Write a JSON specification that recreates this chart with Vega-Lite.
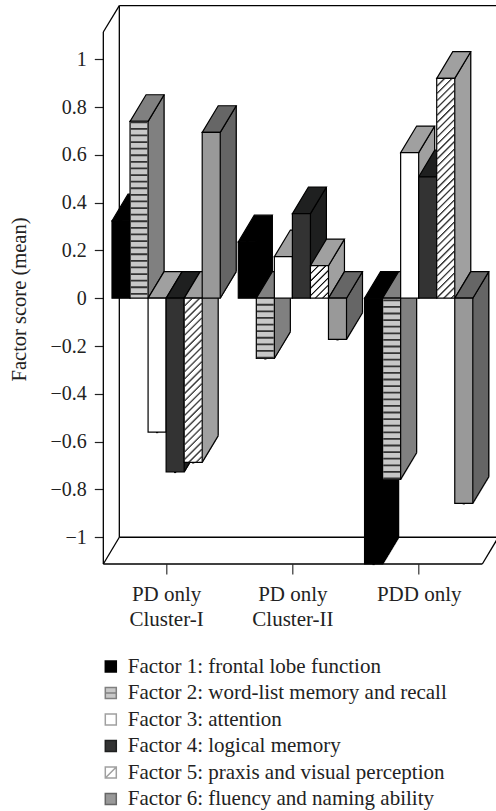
{"$schema":"https://vega.github.io/schema/vega-lite/v6.json","width":392.7,"height":564,"autosize":"none","padding":{"left":103.3,"top":0,"right":0,"bottom":247},"background":"white","config":{"view":{"stroke":null},"font":"Liberation Serif","axis":{"grid":false}},
"data":{"values":[
{"group":"PD only Cluster-I","factor":"Factor 1: frontal lobe function","slot":"A1","value":0.324},
{"group":"PD only Cluster-I","factor":"Factor 2: word-list memory and recall","slot":"A2","value":0.74},
{"group":"PD only Cluster-I","factor":"Factor 3: attention","slot":"A3","value":-0.56},
{"group":"PD only Cluster-I","factor":"Factor 4: logical memory","slot":"A4","value":-0.727},
{"group":"PD only Cluster-I","factor":"Factor 5: praxis and visual perception","slot":"A5","value":-0.687},
{"group":"PD only Cluster-I","factor":"Factor 6: fluency and naming ability","slot":"A6","value":0.694},
{"group":"PD only Cluster-II","factor":"Factor 1: frontal lobe function","slot":"B1","value":0.236},
{"group":"PD only Cluster-II","factor":"Factor 2: word-list memory and recall","slot":"B2","value":-0.252},
{"group":"PD only Cluster-II","factor":"Factor 3: attention","slot":"B3","value":0.174},
{"group":"PD only Cluster-II","factor":"Factor 4: logical memory","slot":"B4","value":0.354},
{"group":"PD only Cluster-II","factor":"Factor 5: praxis and visual perception","slot":"B5","value":0.136},
{"group":"PD only Cluster-II","factor":"Factor 6: fluency and naming ability","slot":"B6","value":-0.172},
{"group":"PDD only","factor":"Factor 1: frontal lobe function","slot":"C1","value":-1.112},
{"group":"PDD only","factor":"Factor 2: word-list memory and recall","slot":"C2","value":-0.758},
{"group":"PDD only","factor":"Factor 3: attention","slot":"C3","value":0.609},
{"group":"PDD only","factor":"Factor 4: logical memory","slot":"C4","value":0.508},
{"group":"PDD only","factor":"Factor 5: praxis and visual perception","slot":"C5","value":0.92},
{"group":"PDD only","factor":"Factor 6: fluency and naming ability","slot":"C6","value":-0.858}
]},
"encoding":{
"x":{"field":"slot","type":"nominal","sort":null,"title":null,"scale":{"type":"band","domain":["A1","A2","A3","A4","A5","A6","gap1","B1","B2","B3","B4","B5","B6","gap2","C1","C2","C3","C4","C5","C6"],"range":[8.7,369.5],"paddingInner":0,"paddingOuter":0},
"axis":{"values":["A3","B3","C3"],"domain":false,"tickOffset":9.02,"tickSize":10,"tickColor":"#333","tickWidth":1.2,"labelAngle":0,"labelFont":"Liberation Serif","labelFontSize":21,"labelColor":"#222","labelPadding":9,"labelLineHeight":25.7,"labelBaseline":"top","labelAlign":"center","labelExpr":"datum.value=='A3'?['PD only','Cluster-I']:datum.value=='B3'?['PD only','Cluster-II']:'PDD only'"}},
"y":{"field":"value","type":"quantitative","title":"Factor score (mean)","scale":{"domain":[-1.112,1.2477],"nice":false,"zero":false},
"axis":{"values":[-1,-0.8,-0.6,-0.4,-0.2,0,0.2,0.4,0.6,0.8,1],"format":".1~f","domain":false,"tickSize":9,"tickColor":"#222","tickWidth":1.2,"labelFont":"Liberation Serif","labelFontSize":20,"labelColor":"#222","labelPadding":8,"titleFont":"Liberation Serif","titleFontSize":20.5,"titleFontWeight":"normal","titleColor":"#222","titleX":-74,"titleY":299}}
},
"layer":[
{"mark":{"type":"point","filled":true,"size":1,"opacity":1,"stroke":"black","strokeWidth":1.2},
"encoding":{
"fill":{"field":"factor","type":"nominal","sort":null,"scale":{"domain":["Factor 1: frontal lobe function","Factor 2: word-list memory and recall","Factor 3: attention","Factor 4: logical memory","Factor 5: praxis and visual perception","Factor 6: fluency and naming ability"],"range":["#000000","#c8c8c8","#ffffff","#333333","#ffffff","#999999"]},
"legend":{"orient":"none","legendX":-3,"legendY":656,"title":null,"symbolSize":121,"symbolStrokeWidth":1.5,"symbolStrokeColor":"#111","labelFont":"Liberation Serif","labelFontSize":21,"labelColor":"#222","labelOffset":6.5,"rowPadding":4.5,"labelLimit":400}},
"shape":{"field":"factor","type":"nominal","sort":null,"scale":{"domain":["Factor 1: frontal lobe function","Factor 2: word-list memory and recall","Factor 3: attention","Factor 4: logical memory","Factor 5: praxis and visual perception","Factor 6: fluency and naming ability"],"range":["M-1,-1H1V1H-1Z","M-1,-1H1V1H-1ZM-1,0H1","M-1,-1H1V1H-1Z","M-1,-1H1V1H-1Z","M-1,-1H1V1H-1ZM-1,1L1,-1","M-1,-1H1V1H-1Z"]}}
}},
{"transform":[{"filter":{"field":"slot","equal":"A1"}}],"encoding":{"x2":{"field":"slot"}},
"layer":[
{"mark":{"type":"rule","color":"black","strokeWidth":1.3,"xOffset":-1.7,"x2Offset":380},"encoding":{"y":{"datum":1.2238,"type":"quantitative"},"y2":{"datum":1.2238}}},
{"mark":{"type":"rule","color":"black","strokeWidth":1.3,"xOffset":-1.7,"x2Offset":-1.7},"encoding":{"y":{"datum":-1,"type":"quantitative"},"y2":{"datum":1.2238}}},
{"mark":{"type":"rule","color":"black","strokeWidth":1.3,"xOffset":-17.7,"x2Offset":-17.7},"encoding":{"y":{"datum":-1.112,"type":"quantitative"},"y2":{"datum":1.1138}}},
{"mark":{"type":"rule","color":"black","strokeWidth":1.3,"xOffset":-17.7,"x2Offset":-1.7},"encoding":{"y":{"datum":1.1138,"type":"quantitative"},"y2":{"datum":1.2238}}},
{"mark":{"type":"rule","color":"black","strokeWidth":1.3,"xOffset":-17.7,"x2Offset":-1.7},"encoding":{"y":{"datum":-1.112,"type":"quantitative"},"y2":{"datum":-1}}},
{"mark":{"type":"rule","color":"black","strokeWidth":1.6,"xOffset":-17.7,"x2Offset":361.3},"encoding":{"y":{"datum":-1.112,"type":"quantitative"},"y2":{"datum":-1.112}}},
{"mark":{"type":"rule","color":"black","strokeWidth":1.3,"xOffset":-1.7,"x2Offset":380},"encoding":{"y":{"datum":-1,"type":"quantitative"},"y2":{"datum":-1}}},
{"mark":{"type":"rule","color":"black","strokeWidth":1.3,"xOffset":361.3,"x2Offset":377.3},"encoding":{"y":{"datum":-1.112,"type":"quantitative"},"y2":{"datum":-1}}}
]},
{"encoding":{"y2":{"datum":0},"stroke":{"field":"factor","type":"nominal","sort":null,"legend":null,"scale":{"domain":["Factor 1: frontal lobe function","Factor 2: word-list memory and recall","Factor 3: attention","Factor 4: logical memory","Factor 5: praxis and visual perception","Factor 6: fluency and naming ability"],"range":["#000000","#808080","#a0a0a0","#1f2020","#a0a0a0","#666666"]}}},
"layer":[
{"mark":{"type":"rule","strokeWidth":2.2,"xOffset":9.5,"yOffset":-0.8,"y2Offset":-0.8}},
{"mark":{"type":"rule","strokeWidth":2.2,"xOffset":10.5,"yOffset":-2.5,"y2Offset":-2.5}},
{"mark":{"type":"rule","strokeWidth":2.2,"xOffset":11.5,"yOffset":-4.2,"y2Offset":-4.2}},
{"mark":{"type":"rule","strokeWidth":2.2,"xOffset":12.5,"yOffset":-5.8,"y2Offset":-5.8}},
{"mark":{"type":"rule","strokeWidth":2.2,"xOffset":13.5,"yOffset":-7.5,"y2Offset":-7.5}},
{"mark":{"type":"rule","strokeWidth":2.2,"xOffset":14.5,"yOffset":-9.1,"y2Offset":-9.1}},
{"mark":{"type":"rule","strokeWidth":2.2,"xOffset":15.5,"yOffset":-10.8,"y2Offset":-10.8}},
{"mark":{"type":"rule","strokeWidth":2.2,"xOffset":16.5,"yOffset":-12.5,"y2Offset":-12.5}},
{"mark":{"type":"rule","strokeWidth":2.2,"xOffset":17.5,"yOffset":-14.1,"y2Offset":-14.1}},
{"mark":{"type":"rule","strokeWidth":2.2,"xOffset":18.5,"yOffset":-15.8,"y2Offset":-15.8}},
{"mark":{"type":"rule","strokeWidth":2.2,"xOffset":19.5,"yOffset":-17.5,"y2Offset":-17.5}},
{"mark":{"type":"rule","strokeWidth":2.2,"xOffset":20.5,"yOffset":-19.1,"y2Offset":-19.1}},
{"mark":{"type":"rule","strokeWidth":2.2,"xOffset":21.5,"yOffset":-20.8,"y2Offset":-20.8}},
{"mark":{"type":"rule","strokeWidth":2.2,"xOffset":22.5,"yOffset":-22.4,"y2Offset":-22.4}},
{"mark":{"type":"rule","strokeWidth":2.2,"xOffset":23.5,"yOffset":-24.1,"y2Offset":-24.1}},
{"mark":{"type":"rule","strokeWidth":2.2,"xOffset":24.4,"yOffset":-25.8,"y2Offset":-25.8}}
]},
{"mark":{"type":"rule","color":"black","strokeWidth":1.2,"xOffset":9,"x2Offset":25,"y2Offset":-26.6},"encoding":{"x2":{"field":"slot"},"y2":{"field":"value"}}},
{"mark":{"type":"rule","color":"black","strokeWidth":1.2,"xOffset":9,"x2Offset":25,"y2Offset":-26.6},"encoding":{"x2":{"field":"slot"},"y":{"datum":0,"type":"quantitative"},"y2":{"datum":0}}},
{"mark":{"type":"rule","color":"black","strokeWidth":1.2,"xOffset":25,"x2Offset":25,"yOffset":-26.6,"y2Offset":-26.6},"encoding":{"x2":{"field":"slot"},"y2":{"datum":0}}},
{"transform":[{"filter":"datum.value>=0"}],"mark":{"type":"point","shape":"M-9,0L9,0L25,-26.6L7,-26.6Z","size":4,"filled":true,"opacity":1,"stroke":"black","strokeWidth":1.2},"encoding":{"color":{"field":"factor","type":"nominal","sort":null,"legend":null,"scale":{"domain":["Factor 1: frontal lobe function","Factor 2: word-list memory and recall","Factor 3: attention","Factor 4: logical memory","Factor 5: praxis and visual perception","Factor 6: fluency and naming ability"],"range":["#000000","#808080","#a0a0a0","#1f2020","#a0a0a0","#666666"]}}}},
{"transform":[{"filter":"datum.value<0"}],"mark":{"type":"point","shape":"M-9,0L9,0L25,-26.6L7,-26.6Z","size":4,"filled":true,"opacity":1,"stroke":"black","strokeWidth":1.2},"encoding":{"y":{"datum":0,"type":"quantitative"},"color":{"field":"factor","type":"nominal","sort":null,"legend":null}}},
{"mark":{"type":"bar","stroke":"black","strokeWidth":1.2},"encoding":{"y2":{"datum":0},"fill":{"field":"factor","type":"nominal","sort":null,"legend":null}}},
{"transform":[{"filter":{"field":"factor","equal":"Factor 2: word-list memory and recall"}}],"mark":{"type":"rule","stroke":"#333333","strokeWidth":16.8,"strokeDash":[1.8,4.8]},"encoding":{"y2":{"datum":0}}},
{"transform":[{"filter":"datum.factor=='Factor 5: praxis and visual perception'&&datum.value>=0"}],"encoding":{"y2":{"datum":0}},
"layer":[
{"mark":{"type":"rule","stroke":"#111","strokeWidth":1.1,"strokeDash":[1.6,5.7],"xOffset":-8,"strokeDashOffset":1}},
{"mark":{"type":"rule","stroke":"#111","strokeWidth":1.1,"strokeDash":[1.6,5.7],"xOffset":-7,"strokeDashOffset":2}},
{"mark":{"type":"rule","stroke":"#111","strokeWidth":1.1,"strokeDash":[1.6,5.7],"xOffset":-6,"strokeDashOffset":3}},
{"mark":{"type":"rule","stroke":"#111","strokeWidth":1.1,"strokeDash":[1.6,5.7],"xOffset":-5,"strokeDashOffset":4}},
{"mark":{"type":"rule","stroke":"#111","strokeWidth":1.1,"strokeDash":[1.6,5.7],"xOffset":-4,"strokeDashOffset":5}},
{"mark":{"type":"rule","stroke":"#111","strokeWidth":1.1,"strokeDash":[1.6,5.7],"xOffset":-3,"strokeDashOffset":6}},
{"mark":{"type":"rule","stroke":"#111","strokeWidth":1.1,"strokeDash":[1.6,5.7],"xOffset":-2,"strokeDashOffset":7}},
{"mark":{"type":"rule","stroke":"#111","strokeWidth":1.1,"strokeDash":[1.6,5.7],"xOffset":-1,"strokeDashOffset":8}},
{"mark":{"type":"rule","stroke":"#111","strokeWidth":1.1,"strokeDash":[1.6,5.7],"xOffset":0.01,"strokeDashOffset":9}},
{"mark":{"type":"rule","stroke":"#111","strokeWidth":1.1,"strokeDash":[1.6,5.7],"xOffset":1,"strokeDashOffset":10}},
{"mark":{"type":"rule","stroke":"#111","strokeWidth":1.1,"strokeDash":[1.6,5.7],"xOffset":2,"strokeDashOffset":11}},
{"mark":{"type":"rule","stroke":"#111","strokeWidth":1.1,"strokeDash":[1.6,5.7],"xOffset":3,"strokeDashOffset":12}},
{"mark":{"type":"rule","stroke":"#111","strokeWidth":1.1,"strokeDash":[1.6,5.7],"xOffset":4,"strokeDashOffset":13}},
{"mark":{"type":"rule","stroke":"#111","strokeWidth":1.1,"strokeDash":[1.6,5.7],"xOffset":5,"strokeDashOffset":14}},
{"mark":{"type":"rule","stroke":"#111","strokeWidth":1.1,"strokeDash":[1.6,5.7],"xOffset":6,"strokeDashOffset":15}},
{"mark":{"type":"rule","stroke":"#111","strokeWidth":1.1,"strokeDash":[1.6,5.7],"xOffset":7,"strokeDashOffset":16}},
{"mark":{"type":"rule","stroke":"#111","strokeWidth":1.1,"strokeDash":[1.6,5.7],"xOffset":8,"strokeDashOffset":17}}
]},
{"transform":[{"filter":"datum.factor=='Factor 5: praxis and visual perception'&&datum.value<0"}],"encoding":{"y":{"datum":0,"type":"quantitative"},"y2":{"field":"value"}},
"layer":[
{"mark":{"type":"rule","stroke":"#111","strokeWidth":1.1,"strokeDash":[1.6,5.7],"xOffset":-8,"strokeDashOffset":1}},
{"mark":{"type":"rule","stroke":"#111","strokeWidth":1.1,"strokeDash":[1.6,5.7],"xOffset":-7,"strokeDashOffset":2}},
{"mark":{"type":"rule","stroke":"#111","strokeWidth":1.1,"strokeDash":[1.6,5.7],"xOffset":-6,"strokeDashOffset":3}},
{"mark":{"type":"rule","stroke":"#111","strokeWidth":1.1,"strokeDash":[1.6,5.7],"xOffset":-5,"strokeDashOffset":4}},
{"mark":{"type":"rule","stroke":"#111","strokeWidth":1.1,"strokeDash":[1.6,5.7],"xOffset":-4,"strokeDashOffset":5}},
{"mark":{"type":"rule","stroke":"#111","strokeWidth":1.1,"strokeDash":[1.6,5.7],"xOffset":-3,"strokeDashOffset":6}},
{"mark":{"type":"rule","stroke":"#111","strokeWidth":1.1,"strokeDash":[1.6,5.7],"xOffset":-2,"strokeDashOffset":7}},
{"mark":{"type":"rule","stroke":"#111","strokeWidth":1.1,"strokeDash":[1.6,5.7],"xOffset":-1,"strokeDashOffset":8}},
{"mark":{"type":"rule","stroke":"#111","strokeWidth":1.1,"strokeDash":[1.6,5.7],"xOffset":0.01,"strokeDashOffset":9}},
{"mark":{"type":"rule","stroke":"#111","strokeWidth":1.1,"strokeDash":[1.6,5.7],"xOffset":1,"strokeDashOffset":10}},
{"mark":{"type":"rule","stroke":"#111","strokeWidth":1.1,"strokeDash":[1.6,5.7],"xOffset":2,"strokeDashOffset":11}},
{"mark":{"type":"rule","stroke":"#111","strokeWidth":1.1,"strokeDash":[1.6,5.7],"xOffset":3,"strokeDashOffset":12}},
{"mark":{"type":"rule","stroke":"#111","strokeWidth":1.1,"strokeDash":[1.6,5.7],"xOffset":4,"strokeDashOffset":13}},
{"mark":{"type":"rule","stroke":"#111","strokeWidth":1.1,"strokeDash":[1.6,5.7],"xOffset":5,"strokeDashOffset":14}},
{"mark":{"type":"rule","stroke":"#111","strokeWidth":1.1,"strokeDash":[1.6,5.7],"xOffset":6,"strokeDashOffset":15}},
{"mark":{"type":"rule","stroke":"#111","strokeWidth":1.1,"strokeDash":[1.6,5.7],"xOffset":7,"strokeDashOffset":16}},
{"mark":{"type":"rule","stroke":"#111","strokeWidth":1.1,"strokeDash":[1.6,5.7],"xOffset":8,"strokeDashOffset":17}}
]}
]}
